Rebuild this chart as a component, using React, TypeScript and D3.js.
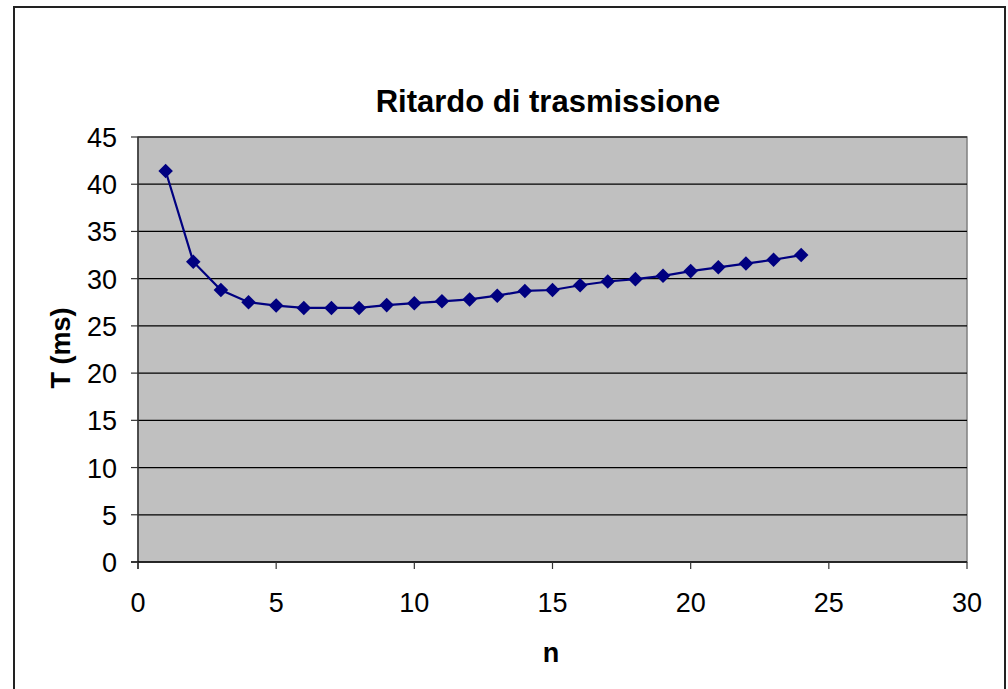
import React from "react";
import * as d3 from "d3";

const nValues = [1, 2, 3, 4, 5, 6, 7, 8, 9, 10, 11, 12, 13, 14, 15, 16, 17, 18, 19, 20, 21, 22, 23, 24];
const tValues = [41.4, 31.8, 28.8, 27.5, 27.15, 26.9, 26.9, 26.9, 27.2, 27.4, 27.6, 27.8, 28.2, 28.7, 28.8, 29.3, 29.7, 29.95, 30.3, 30.8, 31.2, 31.6, 32.0, 32.5];
const xTicks = [0, 5, 10, 15, 20, 25, 30];
const yTicks = [0, 5, 10, 15, 20, 25, 30, 35, 40, 45];
const title = "Ritardo di trasmissione";
const xTitle = "n";
const yTitle = "T (ms)";

export default function App() {
  const W = 1008, H = 689;
  const left = 138, right = 967, top = 137, bottom = 562;
  const x = d3.scaleLinear().domain([0, 30]).range([left, right]);
  const y = d3.scaleLinear().domain([0, 45]).range([bottom, top]);
  const data = nValues.map((n, i) => ({ n, t: tValues[i] }));
  const line = d3.line<{ n: number; t: number }>().x(d => x(d.n)).y(d => y(d.t));
  const diamond = d3.symbol().type(d3.symbolDiamond2).size(135)();
  const font = "'Liberation Sans', Arial, sans-serif";
  return (
    <svg width={W} height={H} style={{ position: "absolute", left: 0, top: 0, background: "#fff" }} fontFamily={font}>
      <rect x={14} y={7} width={991} height={720} fill="#fff" stroke="#222" strokeWidth={2} />
      <rect x={left} y={top} width={right - left} height={bottom - top} fill="#c0c0c0" stroke="#808080" strokeWidth={1.5} />
      {yTicks.filter(v => v > 0).map(v => (
        <line key={"g" + v} x1={left} x2={right} y1={y(v)} y2={y(v)} stroke="#000" strokeWidth={1.2} />
      ))}
      <line x1={left} x2={left} y1={top} y2={bottom + 7} stroke="#333" strokeWidth={1.5} />
      <line x1={left - 7} x2={right} y1={bottom} y2={bottom} stroke="#000" strokeWidth={1.5} />
      {yTicks.map(v => (
        <g key={"y" + v}>
          <line x1={left - 7} x2={left} y1={y(v)} y2={y(v)} stroke="#333" strokeWidth={1.2} />
          <text x={117} y={y(v) + 10} fontSize={27} textAnchor="end" fill="#000">{v}</text>
        </g>
      ))}
      {xTicks.map(v => (
        <g key={"x" + v}>
          <line x1={x(v)} x2={x(v)} y1={bottom} y2={bottom + 7} stroke="#333" strokeWidth={1.2} />
          <text x={x(v)} y={612} fontSize={27} textAnchor="middle" fill="#000">{v}</text>
        </g>
      ))}
      <path d={line(data) || ""} fill="none" stroke="#000080" strokeWidth={2.2} />
      {data.map(d => (
        <path key={"m" + d.n} d={diamond || ""} transform={`translate(${x(d.n)},${y(d.t)})`} fill="#000080" />
      ))}
      <text x={548} y={112} fontSize={31} fontWeight="bold" textAnchor="middle" fill="#000">{title}</text>
      <text x={551} y={662} fontSize={27} fontWeight="bold" textAnchor="middle" fill="#000">{xTitle}</text>
      <text transform={`translate(70,348) rotate(-90)`} fontSize={27} fontWeight="bold" textAnchor="middle" fill="#000">{yTitle}</text>
    </svg>
  );
}
